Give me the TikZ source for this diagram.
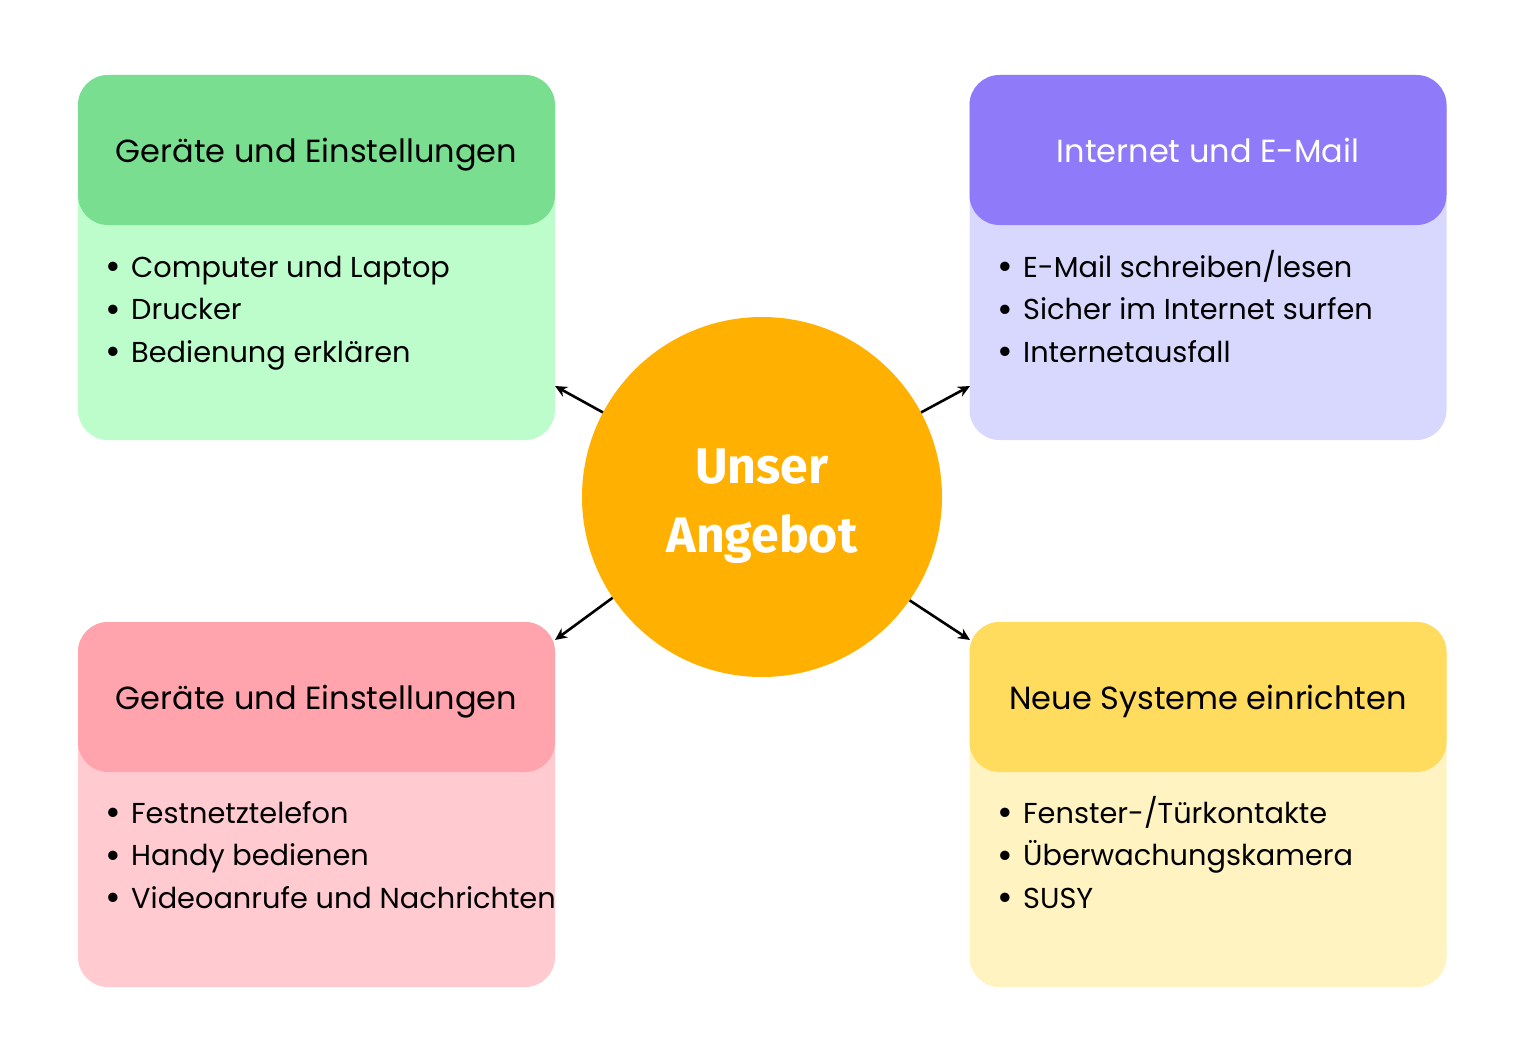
\documentclass[tikz,border=0pt]{standalone}
\usepackage{fontspec}
\setmainfont{Poppins}
\newfontfamily\titlefont{Fira Sans}
\usetikzlibrary{arrows.meta}
\definecolor{gH}{HTML}{79DE8F}
\definecolor{gB}{HTML}{BDFDCB}
\definecolor{pH}{HTML}{8F7AF9}
\definecolor{pB}{HTML}{D8D8FE}
\definecolor{rH}{HTML}{FFA3AD}
\definecolor{rB}{HTML}{FFCAD0}
\definecolor{yH}{HTML}{FFDB5E}
\definecolor{yB}{HTML}{FFF3C2}
\definecolor{cC}{HTML}{FFB000}
\tikzset{
  bodybox/.style={rectangle, rounded corners=30pt, minimum width=477pt, minimum height=365pt, inner sep=0pt},
  headbox/.style={rectangle, rounded corners=30pt, minimum width=477pt, minimum height=150pt, inner sep=0pt},
  headtext/.style={anchor=base, inner sep=0pt, font=\fontsize{32}{38}\selectfont},
  items/.style={anchor=north west, align=left, inner sep=0pt, font=\fontsize{28.8}{42.5}\selectfont},
  arr/.style={-{Stealth[length=12pt,width=11pt]}, line width=2.6pt, black},
}
\newcommand{\itm}[1]{\strut\makebox[26pt][l]{\raisebox{-2.5pt}{\fontsize{38}{38}\selectfont\textbullet}}#1}
\begin{document}
\begin{tikzpicture}[x=1pt,y=-1pt]
\useasboundingbox (0,0) rectangle (1536,1062);
% top left
\node[bodybox, fill=gB] (tl) at (316.5,257.5) {};
\node[headbox, fill=gH] (tlh) at (316.5,150) {};
\node[headtext] (tlt) at (316.5,162) {Geräte und Einstellungen};
\node[items] (tli) at (105,247.3) {\itm{Computer und Laptop}\\\itm{Drucker}\\\itm{Bedienung erklären}};
% top right
\node[bodybox, fill=pB] (tr) at (1208,257.5) {};
\node[headbox, fill=pH] (trh) at (1208,150) {};
\node[headtext, text=white] (trt) at (1208,162) {Internet und E-Mail};
\node[items] (tri) at (997,247.3) {\itm{E-Mail schreiben/lesen}\\\itm{Sicher im Internet surfen}\\\itm{Internetausfall}};
% bottom left
\node[bodybox, fill=rB] (bl) at (316.5,804.5) {};
\node[headbox, fill=rH] (blh) at (316.5,697) {};
\node[headtext] (blt) at (316.5,709) {Geräte und Einstellungen};
\node[items] (bli) at (105,793.3) {\itm{Festnetztelefon}\\\itm{Handy bedienen}\\\itm{Videoanrufe und Nachrichten}};
% bottom right
\node[bodybox, fill=yB] (br) at (1208,804.5) {};
\node[headbox, fill=yH] (brh) at (1208,697) {};
\node[headtext] (brt) at (1208,709) {Neue Systeme einrichten};
\node[items] (bri) at (997,793.3) {\itm{Fenster-/Türkontakte}\\\itm{Überwachungskamera}\\\itm{SUSY}};
% centre
\node[circle, fill=cC, minimum size=360pt, inner sep=0pt] (c) at (762,497) {};
\node[anchor=base, inner sep=0pt, text=white, font=\titlefont\bfseries\fontsize{50}{69}\selectfont] (cu) at (762,483) {Unser};
\node[anchor=base, inner sep=0pt, text=white, font=\titlefont\bfseries\fontsize{50}{69}\selectfont] (ca) at (762,552) {Angebot};
% arrow ends
\coordinate (tle) at (555,386);
\coordinate (tre) at (970,386);
\coordinate (ble) at (555,640);
\coordinate (bre) at (970,640);
\draw[arr] (c.152) -- (tle);
\draw[arr] (c.28) -- (tre);
\draw[arr] (c.214.8) -- (ble);
\draw[arr] (c.325.3) -- (bre);
\end{tikzpicture}
\end{document}
